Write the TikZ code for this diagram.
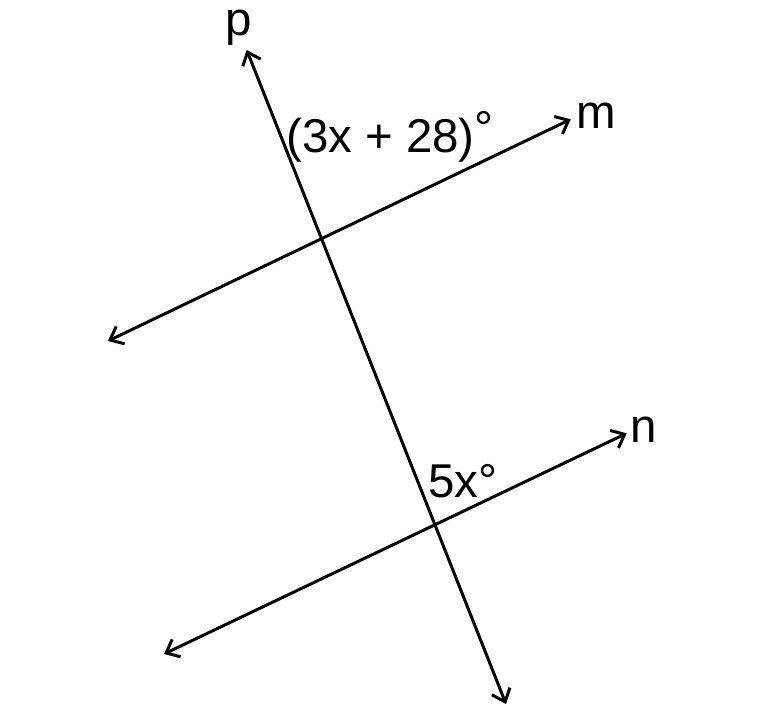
\documentclass[tikz,border=0pt]{standalone}
\usepackage{fontspec}
\setmainfont{Liberation Sans}
\usepackage{tikz}
\usetikzlibrary{arrows.meta}

\begin{document}
\begin{tikzpicture}[line width=1.7pt,label node/.style={inner sep=0pt, font=\fontsize{27}{32}\selectfont},line/.style={{Straight Barb[length=6.5pt,width=11pt]}-{Straight Barb[length=6.5pt,width=11pt]}}]
			\useasboundingbox (0,0) rectangle (15.66,14.28);
			% Ends of the lines
			\coordinate (p1) at (4.934,13.28);
			\coordinate (p2) at (10.12,0.2);
			\coordinate (m1) at (2.16,7.46);
			\coordinate (m2) at (11.414,11.894);
			\coordinate (n1) at (3.28,1.2);
			\coordinate (n2) at (12.534,5.614);
			
			% Lines
			\draw[line] (p1) -- (p2);
			\draw[line] (m1) -- (m2);
			\draw[line] (n1) -- (n2);
			
			% Labels
			\node[label node] (p) at (4.78,13.73) {p};
			\node[label node] (m) at (11.92,11.97) {m};
			\node[label node] (n) at (12.88,5.69) {n};
			\node[label node] (a1) at (7.8,11.54) {(3x + 28)\raisebox{0.3ex}{°}};
			\node[label node] (a2) at (9.26,4.65) {5x°};
			
		\end{tikzpicture}
\end{document}
